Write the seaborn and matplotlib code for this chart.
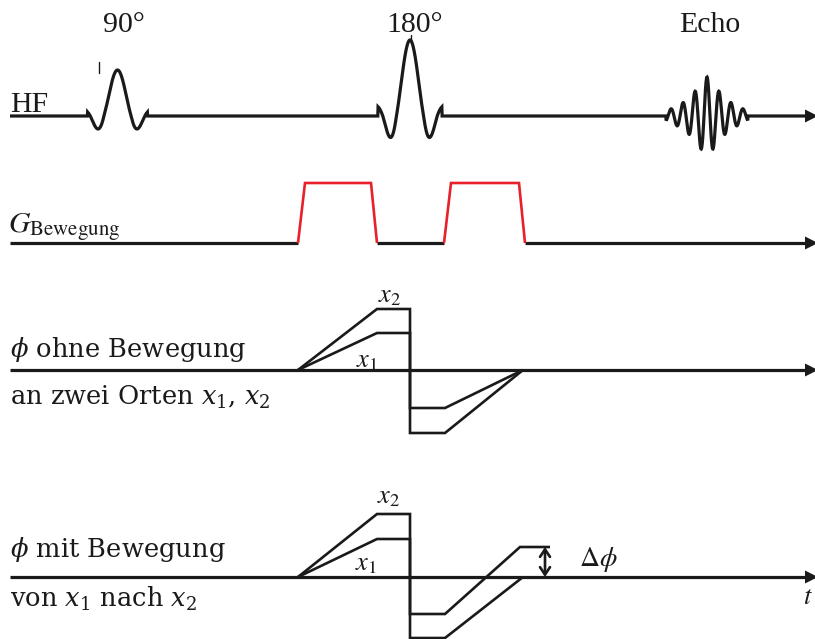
import numpy as np
import pandas as pd
import matplotlib
matplotlib.use("Agg")
import matplotlib.pyplot as plt
import seaborn as sns

# --- RF channel: pulse labels, timing and amplitudes -------------------------
rf_labels = ["90°", "180°", "Echo"]
rf_centers = [117.5, 410.0, 707.0]
rf_amplitudes = [46.0, 76.0, 39.0]
rf_half_widths = [30.0, 32.0, 41.0]

# --- motion-encoding gradient: two trapezoids (ramp-up, flat, ramp-down) -----
grad_lobe1 = [298, 305, 371, 377]
grad_lobe2 = [444, 451, 519, 525]
grad_amplitude = 60.0

# --- phase evolution at two fixed positions x1, x2 ---------------------------
phase_t = [298, 377, 410, 410, 445, 523]
phase_static_x2 = [0, 61, 61, -63, -63, 0]
phase_static_x1 = [0, 37, 37, -38, -38, 0]

# --- phase evolution with motion from x1 to x2 -------------------------------
phase_moving_ref_t = [298, 377, 410, 410, 445, 523]
phase_moving_ref = [0, 63, 63, -61, -61, 0]
phase_moving_t = [298, 377, 410, 410, 445, 520, 550]
phase_moving = [0, 38, 38, -37, -37, 30, 30]
delta_phi = 30

row_labels = ["HF", r"$G_{\mathrm{Bewegung}}$",
              r"$\phi$ ohne Bewegung", r"an zwei Orten $x_{1}$, $x_{2}$",
              r"$\phi$ mit Bewegung", r"von $x_{1}$ nach $x_{2}$"]

sns.set_theme(style="white")
plt.rcParams["font.family"] = ["Liberation Serif", "DejaVu Serif"]
plt.rcParams["mathtext.fontset"] = "stix"

W, H = 815, 639
fig = plt.figure(figsize=(W / 100, H / 100), dpi=100)
ax = fig.add_axes([0, 0, 1, 1])
ax.set_xlim(0, W)
ax.set_ylim(H, 0)
ax.axis("off")

BLACK = "#1a1a1a"
RED = "#e8202a"
LW_AXIS = 2.3
LW = 1.9

y_hf, y_grad, y_ph1, y_ph2 = 116, 243, 370, 577
x_start, x_end = 10, 807


def line(xs, ys, color=BLACK, lw=LW):
    sns.lineplot(x=np.asarray(xs, float), y=np.asarray(ys, float), sort=False,
                 estimator=None, color=color, lw=lw, ax=ax,
                 solid_capstyle="butt", solid_joinstyle="miter")


def arrow_head(y):
    ax.fill([x_end - 2, x_end + 11, x_end - 2], [y - 6.5, y, y + 6.5],
            color=BLACK, lw=0, zorder=5)


# RF trace: baseline with sinc-shaped pulses and an echo
t = np.linspace(x_start, x_end, 3000)
sig = np.zeros_like(t)
lobe = 13.6
for c, a, hw, lab in zip(rf_centers, rf_amplitudes, rf_half_widths, rf_labels):
    d = t - c
    inside = np.abs(d) <= hw
    if lab == "Echo":
        r = np.sqrt(d ** 2 + 16) - 4
        shape = np.exp(-r / 19.0) * np.cos(2 * np.pi * d / 12.0)
    else:
        shape = np.sinc(d / lobe)
        shape = np.where(shape < 0, shape * 1.3, shape)
    sig = sig + np.where(inside, a * shape, 0.0)
line(t, y_hf - sig, lw=LW_AXIS)
arrow_head(y_hf)
ax.plot([99, 99], [62, 73], color=BLACK, lw=1.0)
ax.plot([411, 411], [35, 41], color=BLACK, lw=1.0)

# gradient trace
line([x_start, grad_lobe1[0]], [y_grad, y_grad], lw=LW_AXIS)
line([grad_lobe1[3], grad_lobe2[0]], [y_grad, y_grad], lw=LW_AXIS)
line([grad_lobe2[3], x_end], [y_grad, y_grad], lw=LW_AXIS)
for lobe_t in (grad_lobe1, grad_lobe2):
    line(lobe_t, [y_grad, y_grad - grad_amplitude, y_grad - grad_amplitude, y_grad],
         color=RED, lw=LW)
arrow_head(y_grad)

# phase without motion
line([x_start, x_end], [y_ph1, y_ph1], lw=LW_AXIS)
line(phase_t, y_ph1 - np.array(phase_static_x2))
line(phase_t, y_ph1 - np.array(phase_static_x1))
arrow_head(y_ph1)

# phase with motion
line([x_start, x_end], [y_ph2, y_ph2], lw=LW_AXIS)
line(phase_moving_ref_t, y_ph2 - np.array(phase_moving_ref))
line(phase_moving_t, y_ph2 - np.array(phase_moving))
arrow_head(y_ph2)
ax.annotate("", xy=(545, y_ph2 - delta_phi), xytext=(545, y_ph2),
            arrowprops=dict(arrowstyle="<->,head_length=0.45,head_width=0.3",
                            color=BLACK, lw=1.9, shrinkA=0, shrinkB=0))

# text
top_fs = 21.5
lab_fs = 19
ph_fs = 18.5
ph_font = "DejaVu Serif"
for c, lab in zip([124, 415, 710], rf_labels):
    ax.text(c, 32, lab, ha="center", va="baseline", fontsize=top_fs, color=BLACK)
ax.text(10, 112, row_labels[0], ha="left", va="baseline", fontsize=top_fs, color=BLACK)
ax.text(8, 232, row_labels[1], ha="left", va="baseline", fontsize=top_fs, color=BLACK)
for (yy, lab) in zip([357, 405, 557, 607], row_labels[2:]):
    ax.text(10, yy, lab, ha="left", va="baseline", fontsize=ph_fs,
            family=ph_font, math_fontfamily="dejavuserif", color=BLACK)

ax.text(378, 302, r"$x_{2}$", ha="left", va="baseline", fontsize=lab_fs, color=BLACK)
ax.text(356, 367, r"$x_{1}$", ha="left", va="baseline", fontsize=lab_fs, color=BLACK)
ax.text(377, 503, r"$x_{2}$", ha="left", va="baseline", fontsize=lab_fs, color=BLACK)
ax.text(355, 570, r"$x_{1}$", ha="left", va="baseline", fontsize=lab_fs, color=BLACK)
ax.text(579, 566, r"$\Delta\phi$", ha="left", va="baseline", fontsize=lab_fs + 1, color=BLACK)
ax.text(803, 604, r"$t$", ha="left", va="baseline", fontsize=lab_fs, color=BLACK)

fig.savefig("out.png", dpi=100, facecolor="white")
